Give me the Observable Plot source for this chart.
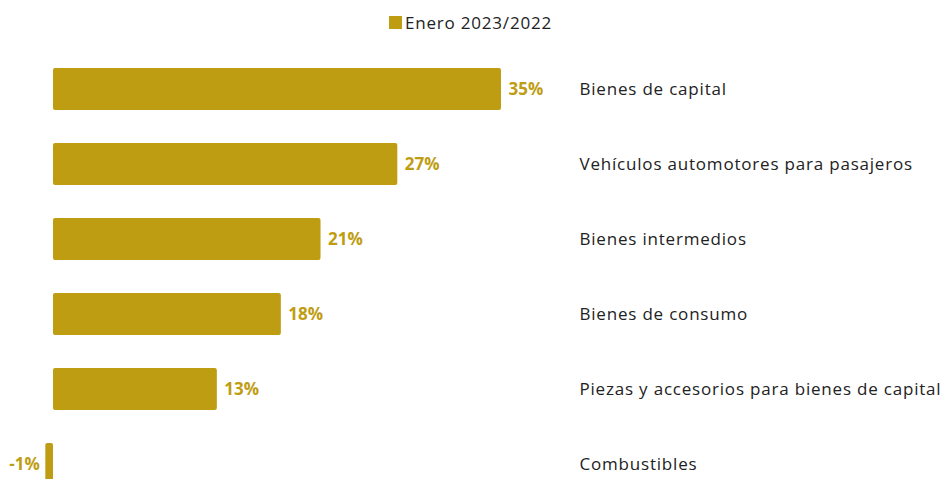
<!DOCTYPE html>
<html>
<head>
<meta charset="utf-8">
<script src="https://cdn.jsdelivr.net/npm/d3@7"></script>
<script src="https://cdn.jsdelivr.net/npm/@observablehq/plot@0.6"></script>
<style>
  body { margin: 0; background: #fff; font-family: "Open Sans", sans-serif; }
  #legend { height: 51px; display: flex; justify-content: center; align-items: flex-start; padding-left: 11px; }
  #legend > * { margin-top: 6px; letter-spacing: 0.8px; }
  #legend svg { margin-right: 3px !important; }
  #chart svg g[aria-label="y-axis tick label"] text { letter-spacing: 0.8px; }
</style>
</head>
<body>
<div id="legend"></div>
<div id="chart"></div>
<script>
const categories = [
  "Bienes de capital",
  "Vehículos automotores para pasajeros",
  "Bienes intermedios",
  "Bienes de consumo",
  "Piezas y accesorios para bienes de capital",
  "Combustibles"
];
const values = [35.0, 26.9, 20.9, 17.8, 12.8, -0.6];
const seriesName = "Enero 2023/2022";
const gold = "#BF9D12";

const data = categories.map((c, i) => ({ category: c, value: values[i] }));

const legend = Plot.legend({
  color: { domain: [seriesName], range: [gold] },
  swatchSize: 13,
  style: { fontFamily: "Open Sans, sans-serif", fontSize: "17px", color: "#222" }
});
document.getElementById("legend").append(legend);

const label = d => Math.round(d.value) + "%";

const chart = Plot.plot({
  width: 947,
  height: 450,
  marginLeft: 53,
  marginRight: 446,
  marginTop: 0,
  marginBottom: 0,
  style: { fontFamily: "Open Sans, sans-serif", fontSize: "17px", color: "#222", background: "#fff" },
  x: { domain: [0, 35], axis: null },
  y: { domain: categories, paddingInner: 0.44, paddingOuter: 0.22, label: null },
  marks: [
    Plot.barX(data, { x: "value", y: "category", fill: gold, rx: 2 }),
    Plot.text(data.filter(d => d.value >= 0), {
      x: "value", y: "category", text: label,
      textAnchor: "start", dx: 7,
      fill: gold, fontWeight: "bold", fontSize: 17
    }),
    Plot.text(data.filter(d => d.value < 0), {
      x: "value", y: "category", text: label,
      textAnchor: "end", dx: -6,
      fill: gold, fontWeight: "bold", fontSize: 17
    }),
    Plot.axisY({ anchor: "right", tickSize: 0, tickPadding: 78, textAnchor: "start", fontSize: 17, fill: "#222", label: null })
  ]
});
document.getElementById("chart").append(chart);
</script>
</body>
</html>
